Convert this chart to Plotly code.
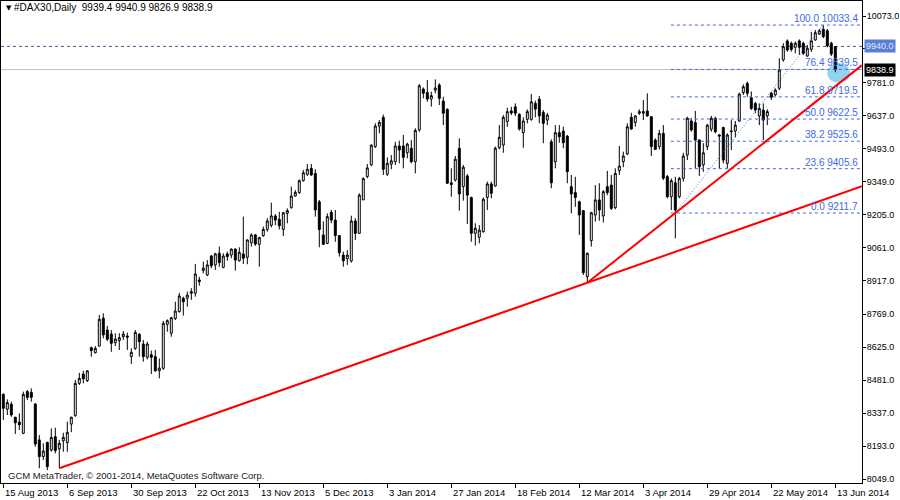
import pandas as pd
import plotly.graph_objects as go

# ---------------- data ----------------
holidays = ["2013-12-24", "2013-12-25", "2013-12-26", "2013-12-31", "2014-01-01",
            "2014-04-18", "2014-04-21", "2014-05-01"]
dates = [d for d in pd.bdate_range("2013-08-15", "2014-06-13") if d.strftime("%Y-%m-%d") not in holidays]

open_ = [8419, 8354, 8376, 8319, 8298, 8249, 8431, 8428, 8377, 8220,
         8147, 8209, 8176, 8234, 8181, 8216, 8208, 8289, 8326, 8467,
         8508, 8479, 8623, 8601, 8630, 8752, 8700, 8683, 8645, 8654,
         8671, 8674, 8584, 8620, 8682, 8639, 8581, 8592, 8584, 8522,
         8533, 8725, 8686, 8750, 8781, 8839, 8839, 8861, 8861, 8919,
         8960, 8941, 9024, 8985, 9036, 8974, 9033, 9028, 9054, 9003,
         9033, 9018, 9082, 9116, 9075, 9113, 9140, 9158, 9199, 9184,
         9140, 9210, 9235, 9286, 9301, 9353, 9381, 9407, 9385, 9261,
         9116, 9079, 9215, 9181, 9113, 9028, 9012, 9002, 9177, 9123,
         9269, 9371, 9422, 9502, 9592, 9630, 9381, 9425, 9436, 9505,
         9505, 9475, 9495, 9436, 9575, 9754, 9739, 9710, 9749, 9771,
         9701, 9665, 9344, 9356, 9495, 9327, 9374, 9280, 9123, 9106,
         9130, 9280, 9339, 9330, 9497, 9509, 9611, 9658, 9676, 9643,
         9563, 9621, 9621, 9691, 9709, 9652, 9618, 9523, 9436, 9563,
         9570, 9548, 9327, 9301, 9261, 9222, 8933, 9091, 9203, 9269,
         9199, 9327, 9334, 9235, 9397, 9436, 9470, 9630, 9607, 9648,
         9648, 9658, 9633, 9531, 9502, 9560, 9371, 9283, 9344, 9283,
         9363, 9465, 9614, 9607, 9531, 9422, 9502, 9578, 9626, 9553,
         9586, 9429, 9567, 9570, 9614, 9738, 9779, 9716, 9691, 9636,
         9662, 9636, 9735, 9728, 9757, 9881, 9964, 9954, 9936, 9964,
         9954, 9898, 9927, 9968, 9994, 10015, 10009, 9954, 9939.4]
high = [8424, 8397, 8387, 8321, 8336, 8431, 8438, 8445, 8380, 8241,
        8205, 8212, 8270, 8273, 8220, 8251, 8300, 8321, 8482, 8513,
        8522, 8525, 8628, 8630, 8766, 8773, 8718, 8700, 8686, 8686,
        8696, 8689, 8620, 8700, 8686, 8657, 8649, 8610, 8613, 8576,
        8740, 8747, 8758, 8824, 8863, 8846, 8868, 8883, 8989, 8933,
        8999, 9006, 9028, 9038, 9065, 9036, 9043, 9057, 9057, 9062,
        9196, 9097, 9123, 9120, 9108, 9152, 9189, 9257, 9207, 9217,
        9217, 9232, 9327, 9312, 9359, 9400, 9426, 9426, 9403, 9269,
        9175, 9210, 9225, 9225, 9116, 9043, 9050, 9200, 9189, 9298,
        9368, 9426, 9513, 9604, 9618, 9642, 9455, 9465, 9523, 9528,
        9553, 9519, 9531, 9582, 9776, 9761, 9793, 9742, 9796, 9779,
        9720, 9669, 9407, 9461, 9538, 9422, 9382, 9283, 9167, 9159,
        9280, 9349, 9349, 9502, 9596, 9640, 9672, 9676, 9691, 9648,
        9630, 9665, 9732, 9703, 9723, 9662, 9650, 9534, 9596, 9596,
        9589, 9553, 9378, 9370, 9266, 9225, 9038, 9217, 9334, 9342,
        9312, 9396, 9378, 9407, 9505, 9480, 9604, 9650, 9640, 9665,
        9706, 9735, 9636, 9538, 9575, 9596, 9378, 9363, 9370, 9370,
        9475, 9633, 9626, 9658, 9534, 9517, 9601, 9636, 9633, 9557,
        9589, 9560, 9618, 9614, 9738, 9774, 9786, 9743, 9698, 9691,
        9691, 9665, 9742, 9757, 9888, 9954, 9971, 9961, 9961, 9971,
        9961, 9946, 10004, 10012, 10016, 10033.4, 10016, 9961, 9940.9]
low = [8307, 8329, 8321, 8246, 8263, 8245, 8394, 8387, 8190, 8096,
       8132, 8088, 8168, 8161, 8096, 8168, 8168, 8254, 8321, 8460,
       8467, 8473, 8584, 8598, 8628, 8664, 8652, 8605, 8630, 8613,
       8657, 8613, 8552, 8613, 8584, 8562, 8572, 8508, 8518, 8489,
       8526, 8693, 8671, 8744, 8776, 8763, 8802, 8832, 8846, 8894,
       8948, 8936, 8970, 8963, 8977, 8970, 9003, 9014, 8960, 8999,
       8989, 8988, 9065, 9068, 8977, 9108, 9130, 9149, 9159, 9140,
       9111, 9167, 9231, 9283, 9295, 9349, 9374, 9374, 9196, 9062,
       9072, 9076, 9167, 9086, 9021, 8977, 8985, 8995, 9094, 9120,
       9269, 9364, 9417, 9496, 9560, 9378, 9374, 9403, 9422, 9429,
       9407, 9451, 9429, 9385, 9567, 9713, 9698, 9677, 9735, 9684,
       9596, 9339, 9283, 9349, 9222, 9266, 9164, 9086, 9069, 9079,
       9126, 9225, 9276, 9327, 9490, 9475, 9589, 9640, 9636, 9572,
       9497, 9604, 9615, 9630, 9604, 9517, 9596, 9320, 9407, 9519,
       9495, 9342, 9210, 9239, 9116, 8941, 8907, 9065, 9174, 9178,
       9170, 9290, 9225, 9228, 9378, 9412, 9465, 9575, 9589, 9640,
       9618, 9633, 9461, 9487, 9490, 9356, 9276, 9225, 9101, 9276,
       9349, 9443, 9567, 9407, 9374, 9392, 9487, 9567, 9560, 9407,
       9429, 9407, 9487, 9543, 9611, 9728, 9720, 9662, 9648, 9596,
       9531, 9596, 9706, 9723, 9749, 9873, 9917, 9917, 9910, 9903,
       9903, 9895, 9916, 9965, 9990, 9976, 9936, 9898, 9826.9]
close = [8358, 8383, 8329, 8295, 8286, 8419, 8406, 8406, 8202, 8147,
         8171, 8103, 8231, 8173, 8205, 8231, 8253, 8319, 8467, 8489,
         8487, 8522, 8610, 8620, 8747, 8679, 8660, 8642, 8661, 8667,
         8683, 8669, 8603, 8690, 8649, 8584, 8639, 8581, 8522, 8534,
         8730, 8741, 8754, 8783, 8849, 8824, 8853, 8868, 8945, 8912,
         8971, 8985, 8981, 9033, 8995, 9024, 9021, 9054, 9006, 9040,
         9014, 9094, 9116, 9076, 9104, 9140, 9177, 9199, 9181, 9156,
         9213, 9222, 9286, 9302, 9353, 9388, 9403, 9378, 9225, 9140,
         9075, 9196, 9181, 9113, 9038, 9003, 9028, 9177, 9123, 9290,
         9362, 9409, 9508, 9592, 9608, 9403, 9429, 9440, 9505, 9487,
         9455, 9513, 9436, 9573, 9768, 9735, 9710, 9725, 9758, 9713,
         9648, 9342, 9336, 9447, 9295, 9412, 9290, 9123, 9145, 9137,
         9272, 9339, 9298, 9495, 9543, 9630, 9655, 9649, 9648, 9579,
         9614, 9655, 9698, 9666, 9636, 9604, 9640, 9344, 9563, 9545,
         9519, 9392, 9295, 9280, 9203, 8951, 9036, 9213, 9269, 9225,
         9305, 9301, 9232, 9385, 9417, 9461, 9589, 9579, 9636, 9655,
         9655, 9636, 9502, 9490, 9560, 9364, 9283, 9353, 9225, 9363,
         9461, 9626, 9575, 9531, 9414, 9475, 9596, 9626, 9567, 9548,
         9443, 9553, 9570, 9596, 9732, 9764, 9735, 9669, 9662, 9669,
         9618, 9655, 9718, 9749, 9837, 9939, 9924, 9927, 9954, 9936,
         9910, 9932, 9965, 10000, 10009, 9983, 9942, 9907, 9838.9]

price_ticks = [10073, 9929, 9781, 9637, 9493, 9349, 9205, 9061, 8917, 8769,
               8625, 8481, 8337, 8193, 8049]
date_tick_idx = list(range(0, 209, 16))

fib_levels = [0.0, 23.6, 38.2, 50.0, 61.8, 76.4, 100.0]
fib_low = 9211.7
fib_high = 10033.4
fib_anchor_idx = [168, 205]

trend_a = [(14, 8096), (146, 8907)]
trend_b = [(146, 8907), (168, 9211.7)]

bid = 9838.9
hline_price = 9940.0
title_text = "#DAX30,Daily  9939.4 9940.9 9826.9 9838.9"
copyright_text = "GCM MetaTrader, © 2001-2014, MetaQuotes Software Corp."

# ---------------- figure ----------------
idx = list(range(len(close)))
X0, X1 = -0.575, 214.675
Y0, Y1 = 8031.5, 10138.6
FONT = "Liberation Sans, Arial, sans-serif"

fig = go.Figure()
fig.add_trace(go.Candlestick(
    x=idx, open=open_, high=high, low=low, close=close,
    increasing=dict(line=dict(color="black", width=1), fillcolor="white"),
    decreasing=dict(line=dict(color="black", width=1), fillcolor="black"),
    whiskerwidth=0, showlegend=False,
    text=[d.strftime("%Y-%m-%d") for d in dates], hoverinfo="text+y",
))

shapes = []
# background circle highlight
shapes.append(dict(type="circle", xref="x", yref="y", x0=206.0, x1=211.7, y0=9781, y1=9866,
                   fillcolor="#87CEEB", opacity=0.9, line=dict(width=0), layer="below"))
# bid line
shapes.append(dict(type="line", xref="paper", yref="y", x0=0, x1=1, y0=bid, y1=bid,
                   line=dict(color="#C0C0C0", width=1), layer="below"))
# horizontal dashed line
shapes.append(dict(type="line", xref="paper", yref="y", x0=0, x1=1, y0=hline_price, y1=hline_price,
                   line=dict(color="#4a5a8a", width=1, dash="3px,3px"), layer="below"))

# fibonacci
rng = fib_high - fib_low
fib_prices = [fib_low + rng * lv / 100.0 for lv in fib_levels]
for lv, p in zip(fib_levels, fib_prices):
    shapes.append(dict(type="line", xref="x", yref="y", x0=166.9, x1=X1, y0=p, y1=p,
                       line=dict(color="#4169E1", width=1, dash="3px,3px")))
    fig.add_annotation(xref="paper", yref="y", x=(859 - 1) / 861, y=p, xanchor="right", yanchor="bottom",
                       text=f"{lv:.1f} {p:.1f}", showarrow=False, borderpad=0,
                       font=dict(family=FONT, size=10, color="#4169E1"))
shapes.append(dict(type="line", xref="x", yref="y", x0=fib_anchor_idx[0], x1=fib_anchor_idx[1],
                   y0=fib_low, y1=fib_high, line=dict(color="#4169E1", width=1, dash="1px,2px")))

# red trend lines (rays to right edge)
for (xa, ya), (xb, yb) in [trend_a, trend_b]:
    slope = (yb - ya) / (xb - xa)
    shapes.append(dict(type="line", xref="x", yref="y", x0=xa, y0=ya, x1=X1, y1=ya + slope * (X1 - xa),
                       line=dict(color="#FF0000", width=2)))

fig.update_layout(shapes=shapes)

# date labels
for i in date_tick_idx:
    fig.add_annotation(xref="x", yref="paper", x=i, y=0, xanchor="left", yanchor="top",
                       xshift=0, yshift=-2, text=dates[i].strftime("%-d %b %Y"), showarrow=False,
                       font=dict(family=FONT, size=9.5, color="black"))

# price highlight labels on axis
fig.add_annotation(xref="paper", yref="y", x=1, y=hline_price, xanchor="left", yanchor="middle", xshift=2,
                   text="9940.0", showarrow=False, bgcolor="#5b7fd9", borderpad=1,
                   font=dict(family=FONT, size=9, color="#dfe6f8"))
fig.add_annotation(xref="paper", yref="y", x=1, y=bid, xanchor="left", yanchor="middle", xshift=2,
                   text=f"{bid:.1f}", showarrow=False, bgcolor="black", borderpad=1,
                   font=dict(family=FONT, size=9, color="white"))

# title & copyright
fig.add_annotation(xref="paper", yref="paper", x=(4 - 1) / 861, y=1 - 7 / 482, xanchor="left", yanchor="middle",
                   text="▼", showarrow=False, font=dict(family="DejaVu Sans", size=7, color="black"))
fig.add_annotation(xref="paper", yref="paper", x=(12 - 1) / 861, y=1 - 7 / 482, xanchor="left", yanchor="middle",
                   text=title_text, showarrow=False, font=dict(family=FONT, size=10, color="black"))
fig.add_annotation(xref="paper", yref="paper", x=(6 - 1) / 861, y=1 - 474 / 482, xanchor="left", yanchor="middle",
                   text=copyright_text, showarrow=False, font=dict(family=FONT, size=9.5, color="#202020"))

fig.update_layout(
    width=900, height=500,
    margin=dict(l=1, r=38, t=1, b=17),
    paper_bgcolor="white", plot_bgcolor="white",
    showlegend=False,
    xaxis=dict(range=[X0, X1], showgrid=False, zeroline=False, showline=True, linecolor="black",
               linewidth=1, mirror=True, ticks="outside", ticklen=4, tickcolor="black",
               tickvals=date_tick_idx, showticklabels=False, rangeslider=dict(visible=False),
               fixedrange=True),
    yaxis=dict(range=[Y0, Y1], side="right", showgrid=False, zeroline=False, showline=True,
               linecolor="black", linewidth=1, mirror=True, ticks="outside", ticklen=3,
               ticklabelstandoff=-1,
               tickcolor="black", tickvals=price_ticks, ticktext=[f"{v:.1f}" for v in price_ticks],
               tickfont=dict(family=FONT, size=9, color="black"), fixedrange=True),
)

fig.write_html("out.html", config={"displayModeBar": False},
               post_script="document.body.style.margin='0';document.body.style.overflow='hidden';")
